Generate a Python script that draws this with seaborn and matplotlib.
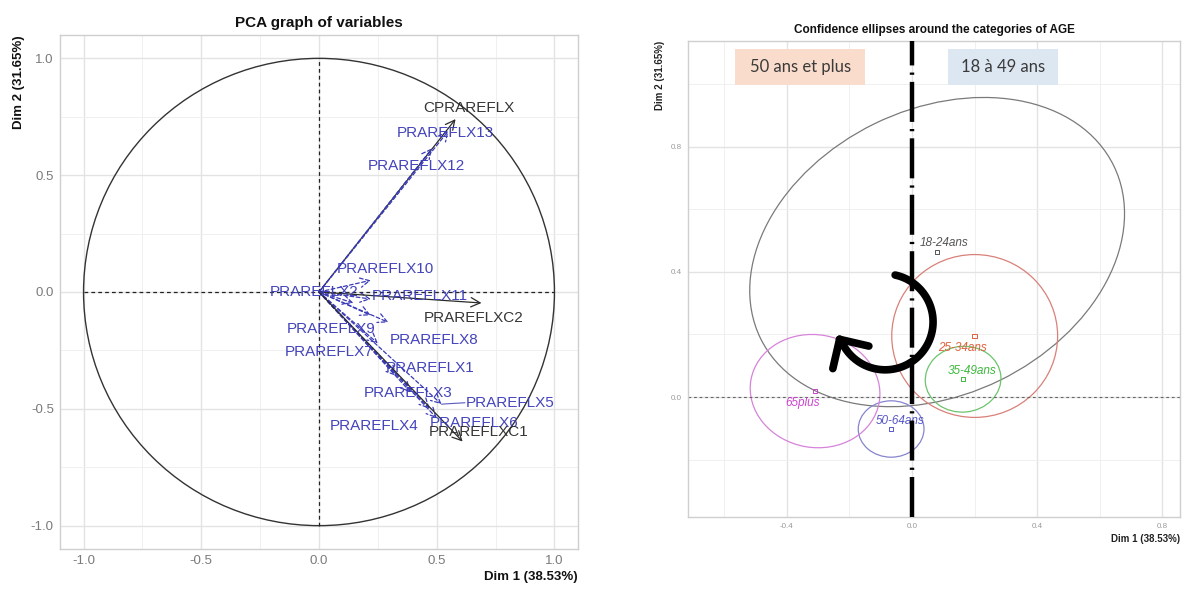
import numpy as np
import pandas as pd
import matplotlib
matplotlib.use("Agg")
import matplotlib.pyplot as plt
import matplotlib.colors as mcolors
import seaborn as sns
from matplotlib.patches import Ellipse, Circle, Rectangle

# ---------------- data : PCA graph of variables ----------------
var_names = ["CPRAREFLX", "PRAREFLX13", "PRAREFLX12", "PRAREFLX10", "PRAREFLX2",
             "PRAREFLX11", "PRAREFLXC2", "PRAREFLX9", "PRAREFLX8", "PRAREFLX7",
             "PRAREFLX1", "PRAREFLX3", "PRAREFLX5", "PRAREFLX4", "PRAREFLX6",
             "PRAREFLXC1"]
var_dim1 = [0.58, 0.55, 0.48, 0.22, 0.146, 0.22, 0.69, 0.22, 0.295, 0.25,
            0.33, 0.39, 0.52, 0.47, 0.50, 0.61]
var_dim2 = [0.74, 0.69, 0.615, 0.05, -0.047, -0.03, -0.047, -0.10, -0.13, -0.22,
            -0.36, -0.43, -0.48, -0.50, -0.54, -0.64]
var_active = [True, False, False, False, False, False, True, False, False, False,
              False, False, False, False, False, True]
var_label_x = [0.635, 0.535, 0.415, 0.283, -0.02, 0.428, 0.655, 0.05, 0.49, 0.043,
               0.47, 0.377, 0.81, 0.236, 0.66, 0.677]
var_label_y = [0.786, 0.68, 0.54, 0.098, 0.0, -0.017, -0.11, -0.158, -0.205, -0.256,
               -0.325, -0.432, -0.474, -0.573, -0.56, -0.598]

# ---------------- data : confidence ellipses (AGE) ----------------
cat_names = ["18-24ans", "25-34ans", "35-49ans", "50-64ans", "65plus"]
cat_dim1 = [0.080, 0.200, 0.163, -0.067, -0.310]
cat_dim2 = [0.463, 0.195, 0.057, -0.102, 0.019]
ell_width = [1.256, 0.530, 0.242, 0.210, 0.416]
ell_height = [0.912, 0.520, 0.210, 0.180, 0.360]
ell_angle = [26.0, 0.0, 5.0, 0.0, -10.0]
cat_label_x = [0.102, 0.160, 0.192, -0.038, -0.349]
cat_label_y = [0.492, 0.156, 0.083, -0.077, -0.019]
ell_colors = ["#7a7a7a", "#d98078", "#6cc46c", "#8585cf", "#d683d9"]
lab_colors = ["#555555", "#e0603c", "#3db83d", "#5656c8", "#cc44d0"]

group_labels = ["50 ans et plus", "18 à 49 ans"]
group_colors = ["#f9dccb", "#dce7f2"]

sns.set_theme(style="whitegrid")
plt.rcParams["font.family"] = ["Liberation Sans", "DejaVu Sans"]

fig = plt.figure(figsize=(11.86, 5.89), dpi=100)
W, H = 1186, 589
ax1 = fig.add_axes([60 / W, 1 - 549 / H, 518 / W, 514 / H])
ax2 = fig.add_axes([688 / W, 1 - 517 / H, 492 / W, 476 / H])


def style_axes(ax, major_x, minor_x, major_y, minor_y, tsize, tcolor):
    ax.set_facecolor("white")
    ax.set_xticks(major_x)
    ax.set_xticks(minor_x, minor=True)
    ax.set_yticks(major_y)
    ax.set_yticks(minor_y, minor=True)
    ax.grid(which="major", color="#e3e3e3", lw=1.0)
    ax.grid(which="minor", color="#f0f0f0", lw=0.7)
    ax.set_axisbelow(True)
    for s in ax.spines.values():
        s.set_visible(True)
        s.set_color("#cfcfcf")
        s.set_linewidth(1.0)
    ax.tick_params(which="major", length=2.5, color="#cccccc", labelsize=tsize,
                   labelcolor=tcolor, pad=2)
    ax.tick_params(which="minor", length=0)


# ---------------- left panel ----------------
style_axes(ax1, [-1, -0.5, 0, 0.5, 1], [-0.75, -0.25, 0.25, 0.75],
           [-1, -0.5, 0, 0.5, 1], [-0.75, -0.25, 0.25, 0.75], 9.5, "#7a7a7a")
ax1.set_xlim(-1.1, 1.1)
ax1.set_ylim(-1.1, 1.1)
ax1.set_xticklabels(["-1.0", "-0.5", "0.0", "0.5", "1.0"])
ax1.set_yticklabels(["-1.0", "-0.5", "0.0", "0.5", "1.0"])

ax1.add_patch(Circle((0, 0), 1.0, fill=False, color="#333333", lw=1.0))
ax1.plot([-1, 1], [0, 0], ls=(0, (3, 2.5)), color="#222222", lw=0.9)
ax1.plot([0, 0], [-1, 1], ls=(0, (3, 2.5)), color="#222222", lw=0.9)

df_var = pd.DataFrame({"name": var_names, "x": var_dim1, "y": var_dim2,
                       "active": var_active, "lx": var_label_x, "ly": var_label_y})
for _, r in df_var.iterrows():
    col = "#2b2b2b" if r["active"] else "#3a3ab8"
    ls = "-" if r["active"] else (0, (3, 2))
    ax1.annotate("", xy=(r["x"], r["y"]), xytext=(0, 0),
                 arrowprops=dict(arrowstyle="->,head_length=0.55,head_width=0.28",
                                 color=col, lw=0.9, linestyle=ls,
                                 shrinkA=0, shrinkB=0, mutation_scale=12))
# repel connector for PRAREFLX5
r5 = df_var[df_var["name"] == "PRAREFLX5"].iloc[0]
ax1.plot([r5["x"], r5["lx"] - 0.19], [r5["y"], r5["ly"]], color="#5a5ac0", lw=0.8)
for _, r in df_var.iterrows():
    col = "#2b2b2b" if r["active"] else "#3a3ab8"
    ax1.text(r["lx"], r["ly"], r["name"], color=col, fontsize=11, ha="center",
             va="center", alpha=0.95)

ax1.set_title("PCA graph of variables", fontsize=11, fontweight="bold", pad=6,
              color="#111111")
ax1.set_xlabel("Dim 1 (38.53%)", loc="right", fontsize=9.5, fontweight="bold",
               color="#111111", labelpad=3)
ax1.set_ylabel("Dim 2 (31.65%)", loc="top", fontsize=9.5, fontweight="bold",
               color="#111111", labelpad=4)

# ---------------- right panel ----------------
style_axes(ax2, [-0.4, 0, 0.4, 0.8], [-0.6, -0.2, 0.2, 0.6],
           [0, 0.4, 0.8], [-0.2, 0.2, 0.6, 1.0], 5.8, "#9a9a9a")
ax2.set_xlim(-0.716, 0.856)
ax2.set_ylim(-0.383, 1.137)
ax2.set_xticklabels(["-0.4", "0.0", "0.4", "0.8"])
ax2.set_yticklabels(["0.0", "0.4", "0.8"])

ax2.axhline(0, ls=(0, (2.5, 2.5)), color="#666666", lw=0.8)

df_cat = pd.DataFrame({"category": cat_names, "x": cat_dim1, "y": cat_dim2,
                       "w": ell_width, "h": ell_height, "ang": ell_angle,
                       "lx": cat_label_x, "ly": cat_label_y})
for i, r in df_cat.iterrows():
    ax2.add_patch(Ellipse((r["x"], r["y"]), r["w"], r["h"], angle=r["ang"],
                          fill=False, edgecolor=ell_colors[i], lw=0.9))
n_before = len(ax2.collections)
sns.scatterplot(data=df_cat, x="x", y="y", hue="category", palette=lab_colors,
                marker="s", s=10, linewidth=0.7, legend=False, ax=ax2)
for c in ax2.collections[n_before:]:
    c.set_facecolor("none")
    c.set_edgecolors([mcolors.to_rgba(col) for col in lab_colors])
for i, r in df_cat.iterrows():
    ax2.text(r["lx"], r["ly"], r["category"], color=lab_colors[i], fontsize=8.5,
             style="italic", ha="center", va="center")

# thick dash-dot separator at Dim 1 = 0
ax2.axvline(0, color="black", lw=3.2, ls=(0, (9, 1.6, 0.5, 1.6)), zorder=5)

# group boxes
box_x0 = [-0.565, 0.115]
box_x1 = [-0.150, 0.466]
for k in range(2):
    ax2.add_patch(Rectangle((box_x0[k], 0.997), box_x1[k] - box_x0[k], 0.115,
                            facecolor=group_colors[k], edgecolor="none", zorder=3))
    ax2.text((box_x0[k] + box_x1[k]) / 2, 1.055, group_labels[k], fontsize=12,
             family=["Lato", "DejaVu Sans"], color="#3a3a3a",
             ha="center", va="center", zorder=4)

# curved arrow (decoration)
arc_c = np.array([-0.086, 0.240])
arc_r = 0.153
th = np.radians(np.linspace(78, -148, 90))
pts = np.column_stack([arc_c[0] + arc_r * np.cos(th), arc_c[1] + arc_r * np.sin(th)])
end_t = th[-1]
d = np.array([np.sin(end_t), -np.cos(end_t)])
tip = pts[-1] + 0.03 * d
pts = np.vstack([pts, tip])
ax2.plot(pts[:, 0], pts[:, 1], color="black", lw=5.5, solid_capstyle="round",
         solid_joinstyle="round", zorder=6)
ang = np.arctan2(d[1], d[0])
for s in (1, -1):
    a = ang + np.pi + s * np.radians(45)
    arm_end = tip + 0.096 * np.array([np.cos(a), np.sin(a)])
    ax2.plot([tip[0], arm_end[0]], [tip[1], arm_end[1]], color="black", lw=5.5,
             solid_capstyle="round", zorder=6)

ax2.set_title("Confidence ellipses around the categories of AGE", fontsize=8.5,
              fontweight="bold", pad=6, color="#111111")
ax2.set_xlabel("Dim 1 (38.53%)", loc="right", fontsize=7, fontweight="bold",
               color="#222222", labelpad=3)
ax2.set_ylabel("Dim 2 (31.65%)", loc="top", fontsize=7, fontweight="bold",
               color="#222222", labelpad=4)

fig.savefig("out.png", dpi=100, facecolor="white")
